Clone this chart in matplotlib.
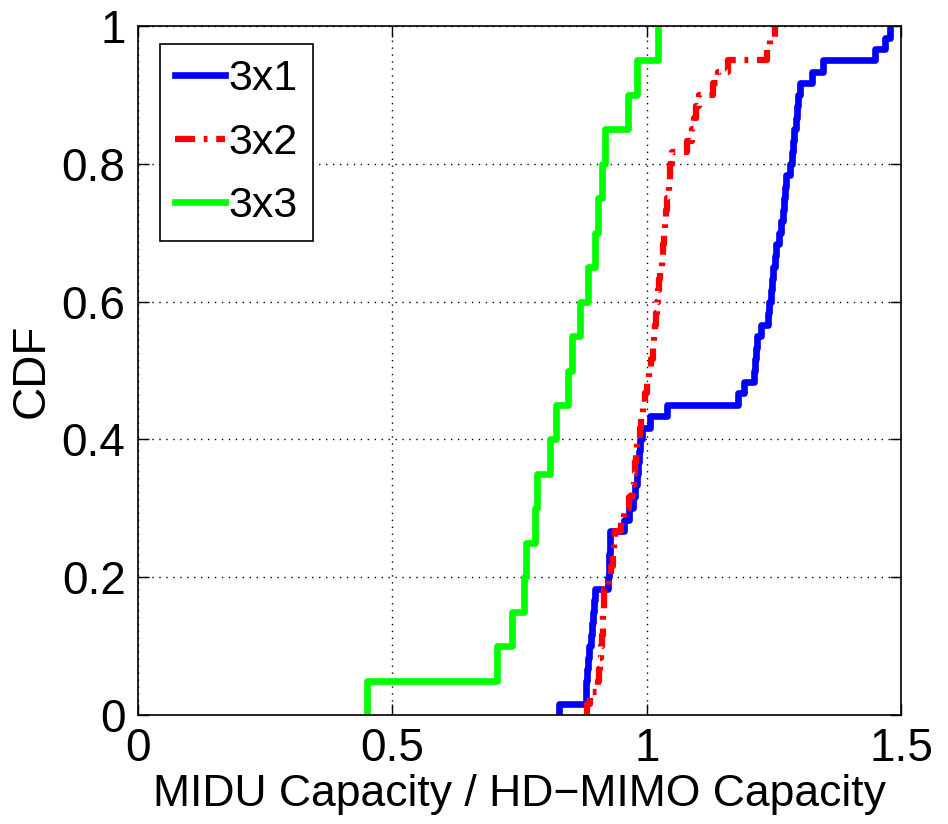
import matplotlib
matplotlib.use("Agg")
import matplotlib.pyplot as plt
import numpy as np

plt.rcParams['font.family'] = ['Liberation Sans', 'DejaVu Sans']

# capacity ratio samples for each antenna configuration
ratio_3x1 = [0.828, 0.880, 0.881, 0.882, 0.884, 0.886, 0.890, 0.892, 0.895, 0.897,
             0.899, 0.924, 0.925, 0.926, 0.927, 0.928, 0.955, 0.965, 0.972, 0.976,
             0.980, 0.983, 0.985, 0.987, 0.990, 1.006, 1.040, 1.180, 1.192, 1.210,
             1.212, 1.214, 1.216, 1.225, 1.238, 1.240, 1.244, 1.246, 1.248, 1.252,
             1.254, 1.260, 1.263, 1.268, 1.270, 1.272, 1.274, 1.282, 1.286, 1.288,
             1.290, 1.293, 1.295, 1.298, 1.302, 1.325, 1.347, 1.449, 1.468, 1.478]
ratio_3x2 = [0.882, 0.888, 0.905, 0.906, 0.908, 0.910, 0.912, 0.913, 0.914, 0.915,
             0.916, 0.925, 0.930, 0.933, 0.935, 0.937, 0.950, 0.955, 0.965, 0.970,
             0.975, 0.976, 0.978, 0.980, 0.986, 0.988, 0.992, 0.997, 1.000, 1.004,
             1.008, 1.012, 1.014, 1.016, 1.018, 1.020, 1.022, 1.024, 1.026, 1.029,
             1.032, 1.034, 1.036, 1.038, 1.040, 1.043, 1.045, 1.046, 1.050, 1.080,
             1.088, 1.092, 1.097, 1.103, 1.130, 1.140, 1.160, 1.237, 1.242, 1.252]
ratio_3x3 = [0.450, 0.706, 0.735, 0.758, 0.762, 0.780, 0.784, 0.810, 0.822, 0.845,
             0.853, 0.868, 0.885, 0.898, 0.905, 0.911, 0.918, 0.963, 0.981, 1.022]

labels = ["3x1", "3x2", "3x3"]
colors = ["blue", "red", "#00ff00"]
xticks = [0, 0.5, 1, 1.5]
yticks = [0, 0.2, 0.4, 0.6, 0.8, 1]


def cdf_steps(samples):
    x = np.sort(np.asarray(samples))
    y = np.arange(1, len(x) + 1) / len(x)
    return np.r_[x[0], x], np.r_[0, y]


fig = plt.figure(figsize=(9.48, 8.24), dpi=100)
ax = fig.add_axes([0.1456, 0.1323, 0.805, 0.8361])

for data, lab, col in zip([ratio_3x1, ratio_3x2, ratio_3x3], labels, colors):
    xs, ys = cdf_steps(data)
    if lab == "3x2":
        ax.step(xs, ys, where="post", color=col, lw=4.5, label=lab,
                dashes=(3.2, 1.4, 0.6, 1.4))
    else:
        ax.step(xs, ys, where="post", color=col, lw=4.8, label=lab)

ax.set_xlim(0, 1.5)
ax.set_ylim(0, 1)
ax.set_xticks(xticks)
ax.set_xticklabels(["0", "0.5", "1", "1.5"])
ax.set_yticks(yticks)
ax.set_yticklabels(["0", "0.2", "0.4", "0.6", "0.8", "1"])
ax.grid(True, color="black", linestyle=(0, (1, 4)), linewidth=1.0)
ax.tick_params(direction="in", length=8, width=1, top=True, right=True,
               labelsize=33, pad=9)
for s in ax.spines.values():
    s.set_linewidth(1.2)

ax.set_xlabel("MIDU Capacity / HD\u2212MIMO Capacity", fontsize=32, labelpad=2)
ax.set_ylabel("CDF", fontsize=33, labelpad=6)

leg = ax.legend(loc="upper left", bbox_to_anchor=(0.029, 0.974), borderaxespad=0,
                fontsize=31, handlelength=1.15, handletextpad=0.08,
                labelspacing=0.55, borderpad=0.35, fancybox=False, framealpha=1)
leg.get_frame().set_edgecolor("black")
leg.get_frame().set_linewidth(1.2)

fig.savefig("out.png", dpi=100)
